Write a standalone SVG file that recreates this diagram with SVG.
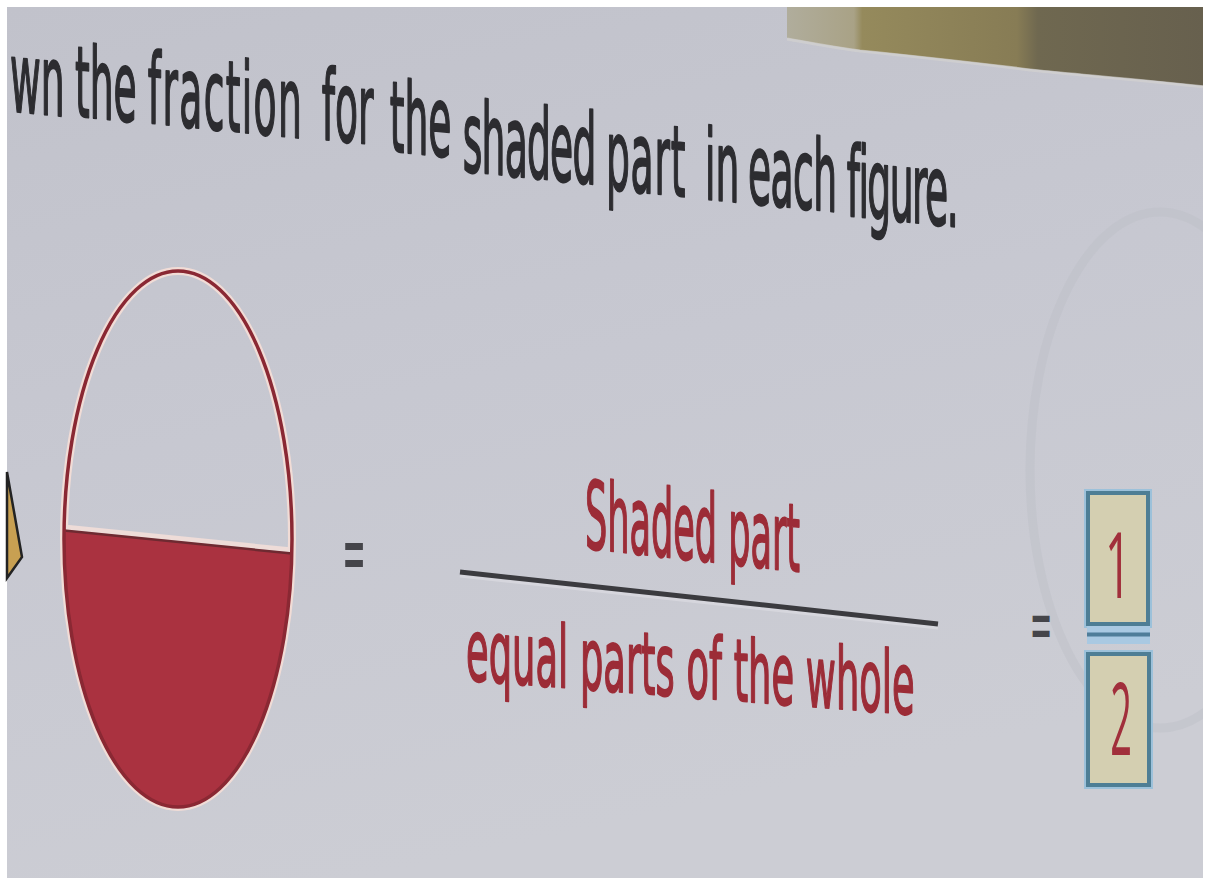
<svg xmlns="http://www.w3.org/2000/svg" width="1205" height="881" viewBox="0 0 1205 881">
  <defs>
    <linearGradient id="pageGrad" x1="0" y1="0" x2="0.3" y2="1">
      <stop offset="0" stop-color="#c1c2cb"/>
      <stop offset="0.5" stop-color="#c7c8d1"/>
      <stop offset="1" stop-color="#cccdd4"/>
    </linearGradient>
    <linearGradient id="woodGrad" x1="787" y1="0" x2="1205" y2="0" gradientUnits="userSpaceOnUse">
      <stop offset="0" stop-color="#b0ad9c"/>
      <stop offset="0.16" stop-color="#a9a286"/>
      <stop offset="0.18" stop-color="#958a5c"/>
      <stop offset="0.55" stop-color="#877c55"/>
      <stop offset="0.6" stop-color="#6f6850"/>
      <stop offset="1" stop-color="#67604e"/>
    </linearGradient>
    <clipPath id="pageClip">
      <rect x="7" y="7" width="1196" height="871"/>
    </clipPath>
    <style>
      .head { font-family: "DejaVu Sans", Verdana, sans-serif; font-size: 98px; fill: #2c2c30; stroke: #2c2c30; stroke-width: 2.2; stroke-linejoin: round; vector-effect: non-scaling-stroke; }
      .red { font-family: "DejaVu Sans", Verdana, sans-serif; fill: #9c2c37; stroke: #9c2c37; stroke-width: 1.6; stroke-linejoin: round; vector-effect: non-scaling-stroke; }
      .eq { font-family: "DejaVu Sans", Verdana, sans-serif; fill: #45454a; text-anchor: middle; }
      .digit { font-family: "Open Sans", "DejaVu Sans", sans-serif; fill: #a12f3b; text-anchor: middle; }
      .box { fill: #d4cfb1; stroke: #4e7e95; stroke-width: 4; }
      .boxHalo { fill: none; stroke: #9cc1da; stroke-width: 8; }
    </style>
  </defs>

  <rect x="0" y="0" width="1205" height="881" fill="#ffffff"/>
  <g id="page" clip-path="url(#pageClip)">
    <rect x="7" y="7" width="1196" height="871" fill="url(#pageGrad)"/>
    <path d="M787,7 L1205,7 L1205,86 C1150,80 1080,74 1040,70 C990,64 920,56 860,50 C830,46 805,41 787,38 Z" fill="url(#woodGrad)"/>
    <path d="M787,39 C805,42 830,47 860,51 C920,57 990,65 1040,71 C1080,75 1150,81 1205,87" fill="none" stroke="#d6d4d0" stroke-width="3" opacity="0.6"/>
    <ellipse cx="1160" cy="470" rx="130" ry="258" fill="none" stroke="#bcbdc5" stroke-width="9" opacity="0.4"/>
  </g>

  <g id="left-shape">
    <polygon points="7,472 22,557 7,578" fill="#c8a052" stroke="#232323" stroke-width="2.5" stroke-linejoin="miter"/>
  </g>

  <g id="heading">
    <text class="head" transform="skewY(5.71) scale(0.384,1)"><tspan x="26" y="110">wn </tspan><tspan x="195" y="108.5">the </tspan><tspan x="385" y="108" letter-spacing="3.5">fraction </tspan><tspan x="838" y="107">for </tspan><tspan x="1015" y="112">the </tspan><tspan x="1205" y="124.7" letter-spacing="-2">shaded </tspan><tspan x="1578" y="128.2" letter-spacing="2">part </tspan><tspan x="1836" y="128.5">in </tspan><tspan x="1948" y="128.2" letter-spacing="-1.5">each </tspan><tspan x="2205" y="131" letter-spacing="-4">figure.</tspan></text>
  </g>

  <g id="half-ellipse">
    <ellipse cx="178" cy="539" rx="114" ry="268" fill="none" stroke="#f1dcd6" stroke-width="8"/>
    <path d="M64.06,530 L291.84,553 A114,268 0 0 1 64.06,530 Z" fill="#aa3240"/>
    <line x1="64" y1="527" x2="292" y2="550" stroke="#eedcd8" stroke-width="5"/>
    <line x1="64" y1="530.5" x2="292" y2="553.5" stroke="#6e2a31" stroke-width="2.5"/>
    <ellipse cx="178" cy="539" rx="114" ry="268" fill="none" stroke="#8a2833" stroke-width="3.5"/>
  </g>

  <g id="equals-1">
    <text class="eq" font-size="83" transform="translate(354,581) scale(0.34,1)">=</text>
  </g>

  <g id="fraction">
    <text class="red" font-size="94" transform="translate(585,548) skewY(6.3) scale(0.369,1)" textLength="583" lengthAdjust="spacingAndGlyphs">Shaded part</text>
    <line x1="460" y1="575" x2="938" y2="627" stroke="#dcdce2" stroke-width="5" opacity="0.7"/>
    <line x1="460" y1="572" x2="938" y2="624" stroke="#3b3b3f" stroke-width="5"/>
    <text class="red" font-size="86" transform="translate(466,680) skewY(4.4) scale(0.427,1)" textLength="1051" lengthAdjust="spacingAndGlyphs">equal parts of the whole</text>
  </g>

  <g id="equals-2">
    <text class="eq" font-size="75" transform="translate(1041,650) scale(0.36,1)">=</text>
  </g>

  <g id="answer">
    <rect class="boxHalo" x="1088" y="493" width="60" height="131"/>
    <rect class="box" x="1088" y="493" width="60" height="131"/>
    <rect x="1087" y="626" width="63" height="18" fill="#a9c9e2"/>
    <rect x="1087" y="632.5" width="63" height="4" fill="#4f7d99"/>
    <rect class="boxHalo" x="1088" y="654" width="61" height="131"/>
    <rect class="box" x="1088" y="654" width="61" height="131"/>
    <text class="digit" font-size="91" transform="translate(1118,598) scale(0.5,1)">1</text>
    <text class="digit" font-size="100" transform="translate(1121,755) scale(0.38,1)">2</text>
  </g>
</svg>
